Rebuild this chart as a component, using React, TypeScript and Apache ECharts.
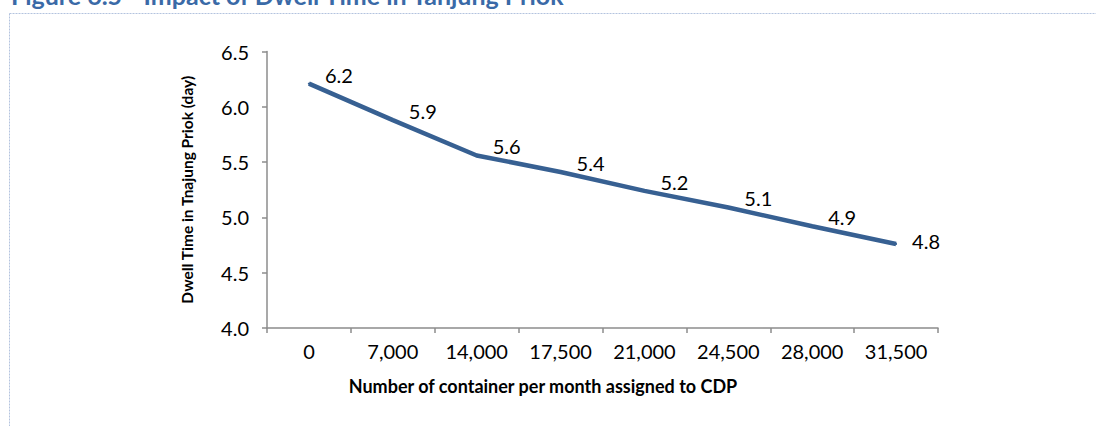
import React, { useEffect, useRef } from "react";
import * as echarts from "echarts";

const categories = ["0", "7,000", "14,000", "17,500", "21,000", "24,500", "28,000", "31,500"];
const dwellTime = [6.21, 5.88, 5.56, 5.41, 5.24, 5.09, 4.92, 4.76];
const labelTexts = ["6.2", "5.9", "5.6", "5.4", "5.2", "5.1", "4.9", "4.8"];
const yTicks = { min: 4, max: 6.5, interval: 0.5 };
const titleText = "Figure 6.5 - Impact of Dwell Time in Tanjung Priok";
const yAxisTitle = "Dwell Time in Tnajung Priok (day)";
const xAxisTitle = "Number of container per month assigned to CDP";

const FONT = "Lato, 'Noto Sans', sans-serif";

export default function App() {
  const ref = useRef<HTMLDivElement>(null);
  useEffect(() => {
    if (!ref.current) return;
    const chart = echarts.init(ref.current, undefined, { renderer: "svg" });
    const last = dwellTime.length - 1;
    chart.setOption({
      animation: false,
      backgroundColor: "#ffffff",
      grid: { left: 267, right: 158, top: 51.5, bottom: 98, containLabel: false },
      xAxis: {
        type: "category",
        data: categories,
        boundaryGap: true,
        axisLine: { lineStyle: { color: "#8c8c8c", width: 1.5 } },
        axisTick: { show: true, length: 5, alignWithLabel: false, lineStyle: { color: "#8c8c8c", width: 1.5 } },
        axisLabel: { color: "#000", fontSize: 20, fontFamily: FONT, margin: 13, interval: 0 },
        splitLine: { show: false },
      },
      yAxis: {
        type: "value",
        min: yTicks.min,
        max: yTicks.max,
        interval: yTicks.interval,
        name: yAxisTitle,
        nameLocation: "middle",
        nameGap: 72,
        nameTextStyle: { color: "#000", fontSize: 15.5, fontWeight: "bold", fontFamily: FONT },
        axisLine: { show: true, lineStyle: { color: "#8c8c8c", width: 1.5 } },
        axisTick: { show: true, length: 5, lineStyle: { color: "#8c8c8c", width: 1.5 } },
        axisLabel: {
          color: "#000",
          fontSize: 20,
          fontFamily: FONT,
          margin: 18,
          formatter: (v: number) => v.toFixed(1),
        },
        splitLine: { show: false },
      },
      series: [
        {
          type: "line",
          data: dwellTime.map((v, i) => ({
            value: v,
            label: {
              show: true,
              position: "right",
              distance: 15,
              offset: i === last ? [0, -3] : [0, -9],
              formatter: () => labelTexts[i],
              color: "#000",
              fontSize: 20,
              fontFamily: FONT,
            },
          })),
          showSymbol: true,
          symbol: "circle",
          symbolSize: 2,
          lineStyle: { color: "#376092", width: 4.5 },
          itemStyle: { color: "#376092" },
        },
      ],
      graphic: [
        {
          type: "text",
          x: 11,
          y: -5,
          style: {
            text: titleText,
            fill: "#3a6aa7",
            font: `bold 25px ${FONT}`,
            textVerticalAlign: "middle",
          },
        },
        {
          type: "line",
          shape: { x1: 9.5, y1: 13.5, x2: 1096, y2: 13.5 },
          style: { stroke: "#b3c3de", lineWidth: 1, lineDash: [2, 1] },
        },
        {
          type: "line",
          shape: { x1: 9.5, y1: 13.5, x2: 9.5, y2: 426 },
          style: { stroke: "#b3c3de", lineWidth: 1, lineDash: [2, 1] },
        },
        {
          type: "text",
          x: 543,
          y: 386,
          style: {
            text: xAxisTitle,
            fill: "#000",
            font: `bold 18px ${FONT}`,
            textAlign: "center",
            textVerticalAlign: "middle",
          },
        },
      ],
    });
    return () => chart.dispose();
  }, []);
  return (
    <div
      ref={ref}
      style={{ position: "fixed", left: 0, top: 0, width: 1096, height: 426, background: "#fff" }}
    />
  );
}
